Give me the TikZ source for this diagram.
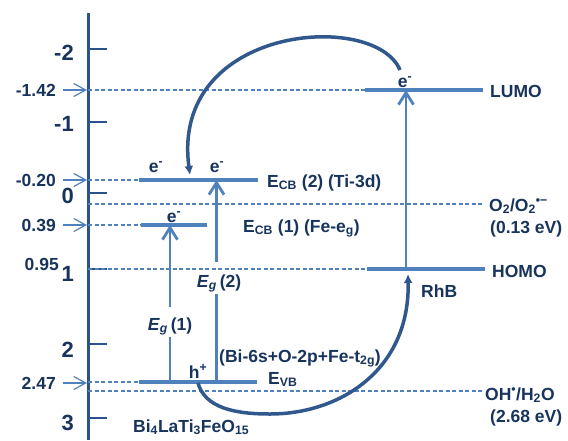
\documentclass[tikz,border=0pt]{standalone}
\usepackage{fontspec}
\setmainfont{Liberation Sans}
\usetikzlibrary{arrows.meta}
\definecolor{axisc}{RGB}{44,82,140}
\definecolor{levelc}{RGB}{79,129,189}
\definecolor{textc}{RGB}{24,52,92}
\definecolor{curvec}{RGB}{48,88,140}
\tikzset{
  axisline/.style={line width=3pt,axisc},
  tickline/.style={line width=2.6pt,axisc},
  level/.style={line width=4pt,levelc},
  guide/.style={levelc,line width=1.1pt,dash pattern=on 4pt off 2.5pt},
  pointer/.style={levelc,line width=1.2pt,-{Straight Barb[length=12pt,width=13pt]}},
  excite/.style={levelc,line width=2.8pt,-{Straight Barb[length=12pt,width=15pt]}},
  gapline/.style={levelc,line width=2.8pt},
  transfer/.style={curvec,line width=3.5pt,-{Latex[length=9pt,width=9pt]}},
  lbl/.style={font=\fontsize{17.5}{20}\selectfont\bfseries,text=textc,inner sep=0pt},
  ticklbl/.style={font=\fontsize{22}{26}\selectfont\bfseries,text=textc,inner sep=0pt,anchor=base east}
}

\begin{document}
\begin{tikzpicture}[x=1pt,y=-1pt]
  \useasboundingbox (0,0) rectangle (568,440);
  \coordinate (axtop) at (88,13);
  \coordinate (axbot) at (88,440);
  \draw[axisline] (axtop) -- (axbot);
  \foreach \n/\v/\y/\b in {a/-2/49/60,b/-1/122/131.7,c/0/193/203,d/1/269/281.7,e/2/344/357,f/3/418/430.7}{
    \draw[tickline] (88,\y) -- (107,\y);
    \node[ticklbl] (tick\n) at (74,\b) {\v};
  }

  \foreach \n/\val/\y in {a/-1.42/90,b/-0.20/180,c/0.39/225,d/2.47/383}{
    \node[lbl,anchor=east] (val\n) at (56,\y) {\val};
    \draw[pointer] ([xshift=7pt]val\n.east) -- ([xshift=31pt]val\n.east);
  }
  \node[lbl,anchor=east] (vale) at (59,264) {0.95};

  \coordinate (cbtwol) at (139,180);
  \coordinate (cbtwor) at (258,180);
  \coordinate (cbonel) at (141,225);
  \coordinate (cboner) at (207,225);
  \coordinate (vbl) at (139,382);
  \coordinate (vbr) at (257,382);
  \coordinate (lumol) at (365,90);
  \coordinate (lumor) at (483,90);
  \coordinate (homol) at (367,269);
  \coordinate (homor) at (485,269);
  \coordinate (redoxo) at (484,204);
  \coordinate (redoxh) at (484,391);

  \draw[guide] (axtop |- lumol) -- (lumol);
  \draw[guide] (axtop |- cbtwol) -- (cbtwol);
  \draw[guide] (axtop |- redoxo) -- (redoxo);
  \draw[guide] (axtop |- cbonel) -- (cbonel);
  \draw[guide] (axtop |- homol) -- (homol);
  \draw[guide] (axtop |- vbl) -- (vbl);
  \draw[guide] (axtop |- redoxh) -- (redoxh);

  \draw[level] (cbtwol) -- (cbtwor);
  \draw[level] (cbonel) -- (cboner);
  \draw[level] (vbl) -- (vbr);
  \draw[level] (lumol) -- (lumor);
  \draw[level] (homol) -- (homor);

  \node[lbl,anchor=base,inner ysep=2pt] (egone) at (170,330) {\textit{E}\textsubscript{\textit{g}}\,(1)};
  \node[lbl,anchor=base,inner ysep=2pt] (egtwo) at (219,287) {\textit{E}\textsubscript{\textit{g}}\,(2)};
  \coordinate (egonex) at (170,0);
  \coordinate (egtwox) at (216.5,0);
  \coordinate (rhbx) at (406,0);
  \draw[gapline] (egonex |- vbl) -- (egonex |- egone.south);
  \draw[excite] ([yshift=8pt]egonex |- egone.north) -- (egonex |- cbonel);
  \draw[gapline] (egtwox |- vbl) -- (egtwox |- egtwo.south);
  \draw[excite] ([yshift=10pt]egtwox |- egtwo.north) -- (egtwox |- cbtwol);
  \draw[excite] (rhbx |- homol) -- (rhbx |- lumol);

  \node[lbl,anchor=base] (ea) at (156,172) {e\textsuperscript{-}};
  \node[lbl,anchor=base] (eb) at (217,172) {e\textsuperscript{-}};
  \node[lbl,anchor=base] (ec) at (174,222) {e\textsuperscript{-}};
  \node[lbl,anchor=base] (ed) at (405,87) {e\textsuperscript{-}};
  \node[lbl,anchor=base] (hole) at (198,378) {h\textsuperscript{+}};

  \node[lbl,anchor=base west] (cbtwo) at (267,187) {E\textsubscript{CB} (2) (Ti-3d)};
  \node[lbl,anchor=base west] (cbone) at (243,232) {E\textsubscript{CB} (1) (Fe-e\textsubscript{g})};
  \node[lbl,anchor=base west] (orb) at (219,362) {(Bi-6s+O-2p+Fe-t\textsubscript{2g})};
  \node[lbl,anchor=base west] (evb) at (268,384) {E\textsubscript{VB}};
  \node[lbl,anchor=base west] (cat) at (133,432) {Bi\textsubscript{4}LaTi\textsubscript{3}FeO\textsubscript{15}};
  \node[lbl,anchor=base west] (lumo) at (490,97) {LUMO};
  \node[lbl,anchor=base west] (homo) at (492,277) {HOMO};
  \node[lbl,anchor=base west] (rhb) at (421,297) {RhB};
  \node[lbl,anchor=base west] (oxy) at (489,211) {O\textsubscript{2}/O\textsubscript{2}\textsuperscript{•−}};
  \node[lbl,anchor=base west] (oxyv) at (490,233) {(0.13 eV)};
  \node[lbl,anchor=base west] (hyd) at (485,400) {OH\textsuperscript{•}/H\textsubscript{2}O};
  \node[lbl,anchor=base west] (hydv) at (490,422) {(2.68 eV)};

  \coordinate (lumoe) at (400,70);
  \coordinate (cbhit) at (190,175);
  \coordinate (hstart) at (198,383);
  \coordinate (hbot) at (270,414);
  \coordinate (homohit) at (408,274);
  \draw[transfer] (lumoe) .. controls (375,10) and (170,25) .. (cbhit);
  \draw[transfer] (hstart) .. controls (205,408) and (235,414) .. (hbot)
    .. controls (340,414) and (410,370) .. (homohit);
\end{tikzpicture}
\end{document}
